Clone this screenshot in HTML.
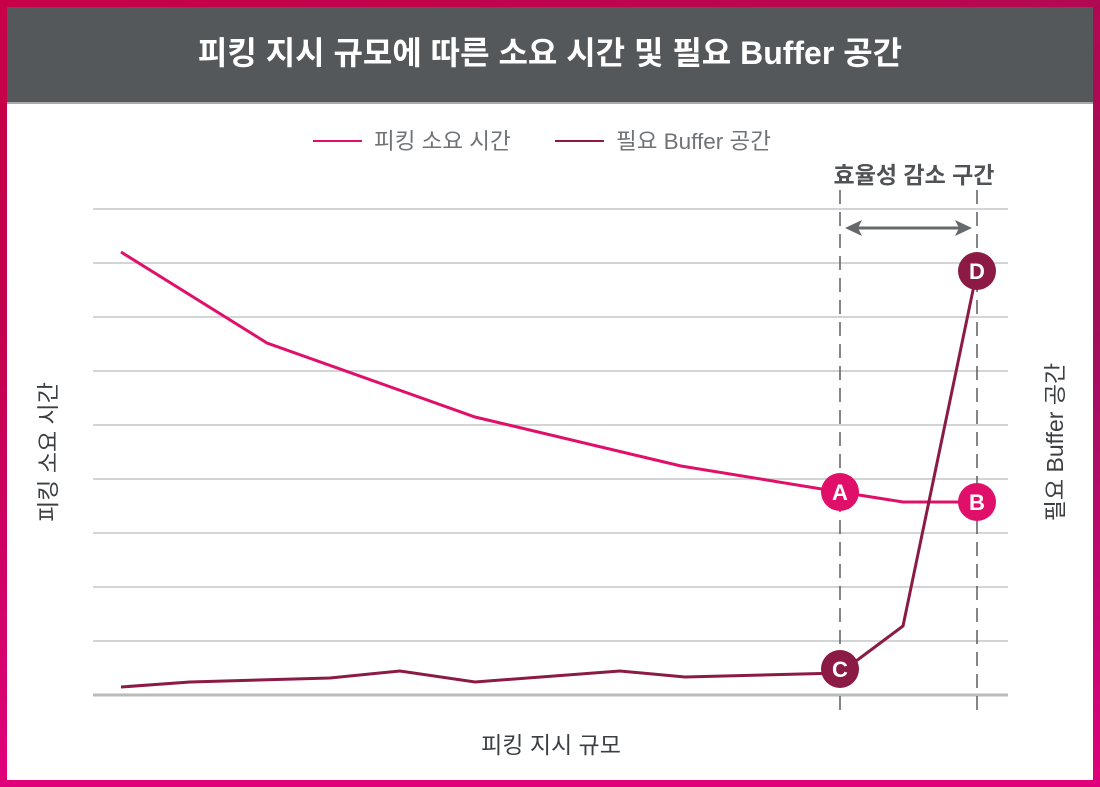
<!DOCTYPE html>
<html><head><meta charset="utf-8"><style>
html,body{margin:0;padding:0}
body{width:1100px;height:787px;background:linear-gradient(135deg,#c8004a 0%,#b8074f 50%,#8c1466 100%);position:relative;overflow:hidden;font-family:"Liberation Sans","Noto Sans CJK KR",sans-serif}
.bl{position:absolute;left:0;top:0;width:1100px;height:787px;background:linear-gradient(to top,#e0007a 0%,rgba(224,0,122,0) 60%)}
.panel{position:absolute;left:7px;top:7px;width:1086px;height:773px;background:#fff}
.head{position:absolute;left:0;top:0;width:1086px;height:95px;background:#55585b;border-bottom:2px solid #a8aaab;color:#fff;font-weight:bold;font-size:32px;text-align:center;line-height:93px}
</style></head><body>
<div class="bl"></div>
<div class="panel"><div class="head">피킹 지시 규모에 따른 소요 시간 및 필요 Buffer 공간</div></div>
<svg width="1100" height="787" style="position:absolute;left:0;top:0" font-family="Liberation Sans, Noto Sans CJK KR, sans-serif">
<g stroke="#c4c6c8" stroke-width="1.5">
<line x1="93" x2="1008" y1="209" y2="209"/><line x1="93" x2="1008" y1="263" y2="263"/><line x1="93" x2="1008" y1="317" y2="317"/><line x1="93" x2="1008" y1="371" y2="371"/><line x1="93" x2="1008" y1="425" y2="425"/><line x1="93" x2="1008" y1="479" y2="479"/><line x1="93" x2="1008" y1="533" y2="533"/><line x1="93" x2="1008" y1="587" y2="587"/><line x1="93" x2="1008" y1="641" y2="641"/>
</g>
<line x1="93" x2="1008" y1="695" y2="695" stroke="#b8babb" stroke-width="3"/>
<g stroke="#5a5d60" stroke-width="1.5" stroke-dasharray="14,8">
<line x1="840" x2="840" y1="190" y2="716"/><line x1="977" x2="977" y1="190" y2="716"/>
</g>
<line x1="855" x2="962" y1="228" y2="228" stroke="#66696c" stroke-width="3"/>
<polygon points="845,228 862,220 858,228 862,236" fill="#66696c"/>
<polygon points="972,228 955,220 959,228 955,236" fill="#66696c"/>
<text x="914" y="183" text-anchor="middle" font-size="23" font-weight="bold" fill="#505356">효율성 감소 구간</text>
<polyline fill="none" stroke="#e0106a" stroke-width="3" points="121,252 267,343 475,417 681,466 840,492 903,502 977,502"/>
<polyline fill="none" stroke="#8b1a45" stroke-width="3" points="121,687 190,682 330,678 400,671 475,682 620,671 685,677 840,673 903,626 977,271"/>
<g font-size="22" font-weight="bold" fill="#fff" text-anchor="middle">
<circle cx="840" cy="492" r="19" fill="#e0106a"/><text x="840" y="500">A</text>
<circle cx="977" cy="502" r="19" fill="#e0106a"/><text x="977" y="510">B</text>
<circle cx="840" cy="669" r="19" fill="#8b1a45"/><text x="840" y="677">C</text>
<circle cx="977" cy="271" r="19" fill="#8b1a45"/><text x="977" y="279">D</text>
</g>
<line x1="313" x2="362" y1="141" y2="141" stroke="#e0106a" stroke-width="2"/>
<text x="374" y="149" font-size="22.5" fill="#707376">피킹 소요 시간</text>
<line x1="555" x2="604" y1="141" y2="141" stroke="#8b1a45" stroke-width="2"/>
<text x="616" y="149" font-size="22.5" fill="#707376">필요 Buffer 공간</text>
<text x="551" y="753" text-anchor="middle" font-size="23" fill="#3c3f42">피킹 지시 규모</text>
<text transform="translate(56,452) rotate(-90)" text-anchor="middle" font-size="23" fill="#3c3f42">피킹 소요 시간</text>
<text transform="translate(1063,442) rotate(-90)" text-anchor="middle" font-size="23" fill="#3c3f42">필요 Buffer 공간</text>
</svg>
</body></html>
